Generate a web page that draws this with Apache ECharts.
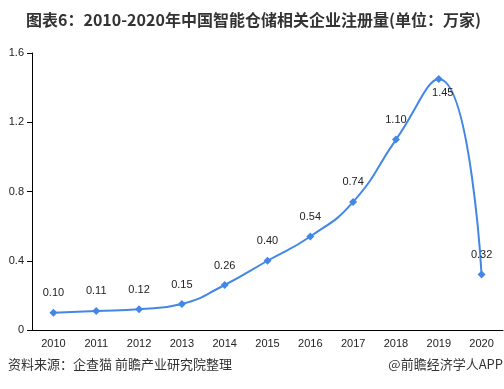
<!DOCTYPE html>
<html><head><meta charset="utf-8">
<script src="https://cdn.jsdelivr.net/npm/echarts@6/dist/echarts.min.js"></script>
<style>html,body{margin:0;padding:0;background:#fff}#c{width:504px;height:389px}</style>
</head><body><div id="c"></div>
<script>
var categories = ['2010','2011','2012','2013','2014','2015','2016','2017','2018','2019','2020'];
var values = [0.10,0.11,0.12,0.15,0.26,0.40,0.54,0.74,1.10,1.45,0.32];
var titleText = '图表6：2010-2020年中国智能仓储相关企业注册量(单位：万家)';
var sourceText = '资料来源：企查猫 前瞻产业研究院整理';
var brandText = '@前瞻经济学人APP';
var chart = echarts.init(document.getElementById('c'));
var seriesData = values.map(function(v, i){
  var d = {value: v};
  if (categories[i] === '2019') d.label = {position:'bottom', distance:4, offset:[4,0]};
  return d;
});
chart.setOption({
  animation:false,
  title:{text:titleText,left:21,top:7,textStyle:{fontSize:16,fontWeight:'bold',color:'#333',fontFamily:'Noto Sans CJK SC'}},
  graphic:[
    {type:'text',left:8,top:358,style:{text:sourceText,fontSize:13,fill:'#333',fontFamily:'Noto Sans CJK SC'}},
    {type:'text',right:1,top:358,style:{text:brandText,fontSize:13,fill:'#333',fontFamily:'Noto Sans CJK SC'}}
  ],
  grid:{left:32,right:1,top:53,bottom:59},
  xAxis:{type:'category',data:categories,boundaryGap:true,
    axisLine:{lineStyle:{color:'#000'}},axisTick:{alignWithLabel:false,lineStyle:{color:'#000'}},
    axisLabel:{color:'#222',fontSize:11,margin:8,fontFamily:'Liberation Sans'}},
  yAxis:{type:'value',min:0,max:1.6,interval:0.4,
    axisLine:{show:true,lineStyle:{color:'#000'}},axisTick:{show:true,lineStyle:{color:'#000'}},
    splitLine:{show:false},
    axisLabel:{color:'#222',fontSize:11,margin:8,fontFamily:'Liberation Sans',formatter:function(v){return v===0?'0':v.toFixed(1);}}},
  series:[{type:'line',data:seriesData,smooth:0.5,symbol:'diamond',symbolSize:8,
    lineStyle:{color:'#4387e6',width:2},itemStyle:{color:'#4387e6'},
    label:{show:true,position:'top',distance:10,color:'#222',fontSize:11,fontFamily:'Liberation Sans',
      formatter:function(p){return p.value.toFixed(2);}}}]
});
</script></body></html>
